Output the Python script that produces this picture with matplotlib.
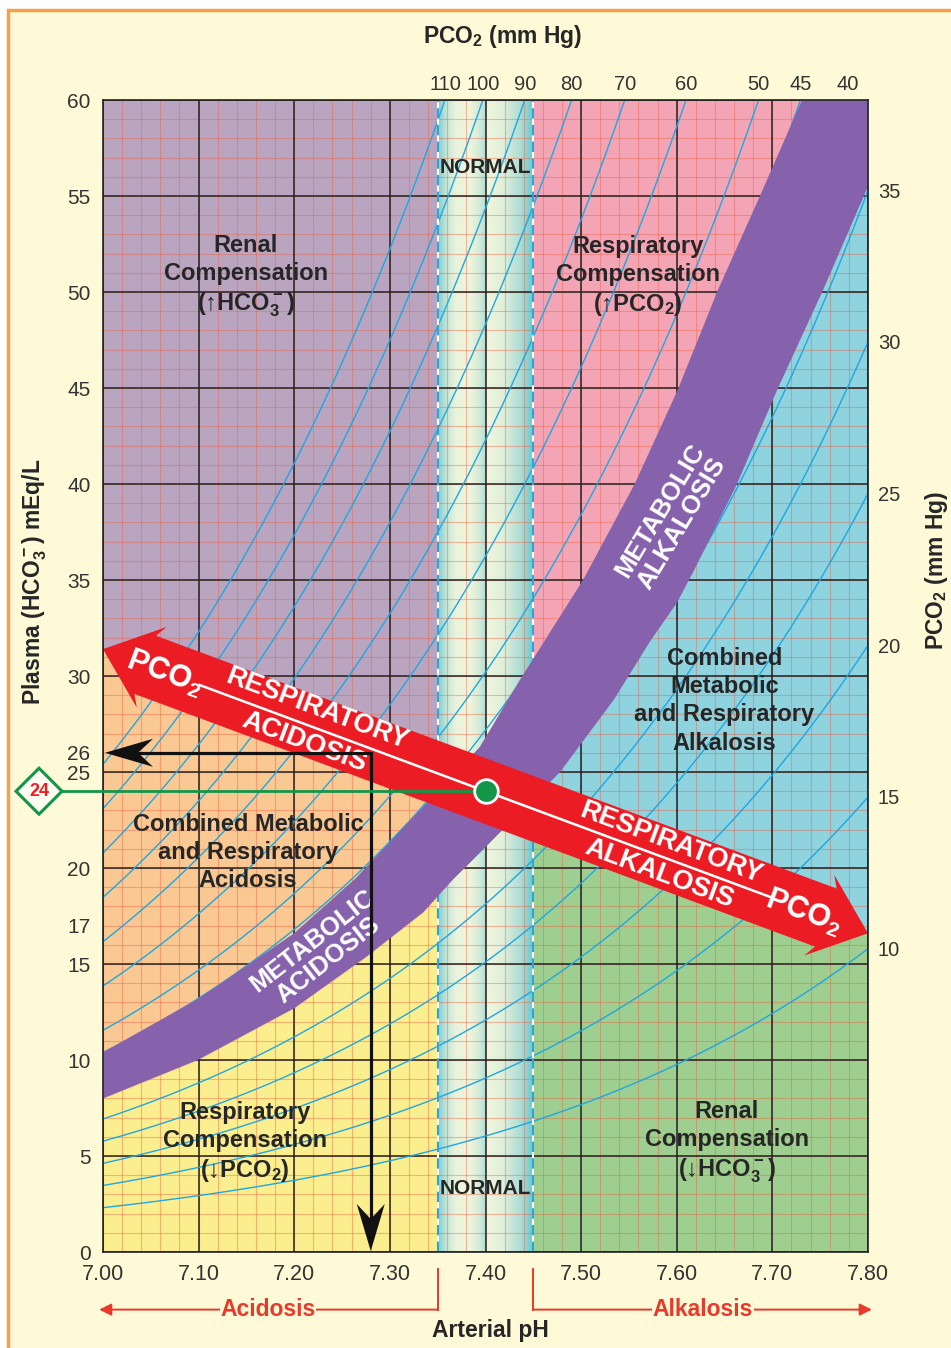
import numpy as np
import matplotlib
matplotlib.use("Agg")
import matplotlib.pyplot as plt
from matplotlib.patches import Polygon, Rectangle

plt.rcParams['font.family'] = ['Liberation Sans', 'DejaVu Sans']
plt.rcParams['mathtext.default'] = 'regular'

# ---------------- data ----------------
PH_TICKS = [7.00, 7.10, 7.20, 7.30, 7.40, 7.50, 7.60, 7.70, 7.80]
HCO3_TICKS = [0, 5, 10, 15, 17, 20, 25, 26, 30, 35, 40, 45, 50, 55, 60]
PCO2_TOP = [110, 100, 90, 80, 70, 60, 50, 45, 40]      # isopleths leaving through the top
PCO2_RIGHT = [35, 30, 25, 20, 15, 10]                   # isopleths leaving through the right
ISO_SCALE = 0.604      # HCO3 per mm Hg of PCO2 at pH 7.40
ISO_SLOPE = 1.044      # log-slope of the isopleths versus pH

NORMAL_PH = (7.35, 7.45)
NORMAL_POINT = (7.40, 24)
EXAMPLE_POINT = (7.28, 26)
RESP_LINE_PH = [7.00, 7.80]
RESP_LINE_HCO3 = [31.4, 16.6]

BAND_UPPER_PH = [7.000, 7.100, 7.200, 7.265, 7.335, 7.394, 7.436, 7.502,
                 7.556, 7.601, 7.643, 7.687, 7.731]
BAND_UPPER_HCO3 = [10.4, 13.2, 16.6, 19.5, 23.2, 26.3, 29.8, 35.0,
                   40.0, 44.9, 50.1, 55.0, 60.0]
BAND_LOWER_PH = [7.000, 7.099, 7.200, 7.276, 7.335, 7.366, 7.408, 7.478,
                 7.534, 7.572, 7.600, 7.617, 7.663, 7.705, 7.753, 7.800]
BAND_LOWER_HCO3 = [8.0, 10.0, 12.7, 15.4, 17.7, 19.4, 21.5, 25.0,
                   28.75, 31.8, 33.8, 35.4, 40.0, 44.9, 50.1, 55.5]

# ---------------- colours ----------------
CREAM = '#fef9d6'
BORDER = '#f7a146'
MAUVE = '#baa5c0'
ORANGE_FILL = '#f9c893'
YELLOW = '#fbee8e'
PINK = '#f4a5b5'
BLUE = '#8fd3df'
GREEN_FILL = '#9fcf90'
BAND = '#8662ac'
RED = '#ec1c24'
ISO = '#1ea7e1'
MINOR = '#ee5a3c'
GREEN = '#13964a'
TXT = '#262626'
TICK = '#333333'

W, H = 951, 1348
AX_L, AX_R, AX_T, AX_B = 103, 868, 100, 1252
fig = plt.figure(figsize=(W / 100, H / 100), dpi=100, facecolor='white')
fig.patches.append(Rectangle((8 / W, -0.05), 1.1, (1 - 10 / H) + 0.05,
                             transform=fig.transFigure, facecolor=CREAM,
                             edgecolor=BORDER, lw=2.5, zorder=-10))
ax = fig.add_axes([AX_L / W, 1 - AX_B / H, (AX_R - AX_L) / W, (AX_B - AX_T) / H])
ax.patch.set_visible(False)
SX = (AX_R - AX_L) / 0.8   # pixels per pH unit
SY = (AX_B - AX_T) / 60.0  # pixels per mEq/L


def hco3_at(ph, pco2):
    return ISO_SCALE * pco2 * 10 ** (ISO_SLOPE * (np.asarray(ph) - 7.4))


def resp_line(ph):
    return np.interp(ph, RESP_LINE_PH, RESP_LINE_HCO3)


# ---------------- zones ----------------
xl = np.linspace(7.0, NORMAL_PH[0], 300)
ax.fill_between([7.0, NORMAL_PH[0]], 0, 60, color=YELLOW, lw=0, zorder=0.1)
ax.fill_between(xl, np.interp(xl, BAND_LOWER_PH, BAND_LOWER_HCO3), resp_line(xl),
                where=resp_line(xl) > np.interp(xl, BAND_LOWER_PH, BAND_LOWER_HCO3),
                color=ORANGE_FILL, lw=0, zorder=0.11)
ax.fill_between(xl, resp_line(xl), 60, color=MAUVE, lw=0, zorder=0.12)

xr = np.linspace(NORMAL_PH[1], 7.8, 300)
ax.fill_between([NORMAL_PH[1], 7.8], 0, 60, color=GREEN_FILL, lw=0, zorder=0.1)
ax.fill_between(xr, resp_line(xr), 60, color=BLUE, lw=0, zorder=0.11)
xp = np.linspace(NORMAL_PH[1], BAND_UPPER_PH[-1], 300)
ax.fill_between(xp, np.interp(xp, BAND_UPPER_PH, BAND_UPPER_HCO3), 60,
                color=PINK, lw=0, zorder=0.12)

# shaded "normal" column
t = np.linspace(0, 1, 400)
shade = np.interp(t, [0, 0.08, 0.18, 0.33, 0.42, 0.5, 0.501, 0.52, 0.68, 0.85, 1.0],
                  [0.8, 0.35, 0.05, 0.0, 0.18, 0.45, 0.08, 0.0, 0.12, 0.45, 0.95])
teal = np.array([100, 196, 204]) / 255
light = np.array([240, 245, 220]) / 255
img = light[None, :] * (1 - shade[:, None]) + teal[None, :] * shade[:, None]
ax.imshow(img[None, :, :], extent=[NORMAL_PH[0], NORMAL_PH[1], 0, 60],
          aspect='auto', interpolation='bilinear', zorder=0.2)

# ---------------- grid ----------------
ax.vlines(np.arange(7.0, 7.8001, 0.02), 0, 60, color=MINOR, lw=0.8, alpha=0.4, zorder=0.4)
ax.hlines(np.arange(0, 61, 1), 7.0, 7.8, color=MINOR, lw=0.8, alpha=0.4, zorder=0.4)
ax.vlines(PH_TICKS, 0, 60, color='#222222', lw=1.1, zorder=0.45)
ax.hlines(np.arange(0, 61, 5), 7.0, 7.8, color='#222222', lw=1.1, zorder=0.45)

# ---------------- PCO2 isopleths ----------------
ph = np.linspace(7.0, 7.8, 400)
for p in PCO2_TOP + PCO2_RIGHT:
    ax.plot(ph, hco3_at(ph, p), color=ISO, lw=1.0, zorder=0.6)

for v in NORMAL_PH:
    ax.axvline(v, color='white', lw=1.5, zorder=0.7)
    ax.axvline(v, color='#29a6dc', lw=1.5, ls=(0, (5, 3)), zorder=0.71)

# ---------------- metabolic band ----------------
band = (list(zip(BAND_UPPER_PH, BAND_UPPER_HCO3)) + [(7.8, 60)] +
        list(zip(BAND_LOWER_PH[::-1], BAND_LOWER_HCO3[::-1])))
ax.add_patch(Polygon(band, closed=True, facecolor=BAND, edgecolor='none', zorder=1))

ax.text(7.594, 38.3, 'METABOLIC\nALKALOSIS', rotation=59, rotation_mode='anchor',
        ha='center', va='center', multialignment='center', color='white',
        fontsize=18.5, fontweight='bold', linespacing=1.05, zorder=1.1)
ax.text(7.227, 15.7, 'METABOLIC\nACIDOSIS', rotation=38, rotation_mode='anchor',
        ha='center', va='center', multialignment='center', color='white',
        fontsize=18.5, fontweight='bold', linespacing=1.05, zorder=1.1)

# ---------------- respiratory double arrow ----------------
X0, Y0 = RESP_LINE_PH[0], RESP_LINE_HCO3[0]
dX = (RESP_LINE_PH[1] - RESP_LINE_PH[0]) * SX
dY = (RESP_LINE_HCO3[1] - RESP_LINE_HCO3[0]) * SY
L = np.hypot(dX, dY)
ux, uy = dX / L, dY / L
nx, ny = uy, -ux          # points to the lower side of the arrow
ANG = np.degrees(np.arctan2(dY, dX))


def on_arrow(a, p):
    return (X0 + (a * ux + p * nx) / SX, Y0 + (a * uy + p * ny) / SY)


HEAD_LEN, HEAD_HALF, BARB_BACK, SHAFT_HALF = 52, 43, 45, 31
outline = [(0, 0), (HEAD_LEN, -HEAD_HALF), (BARB_BACK, -SHAFT_HALF),
           (L - BARB_BACK, -SHAFT_HALF), (L - HEAD_LEN, -HEAD_HALF), (L, 0),
           (L - HEAD_LEN, HEAD_HALF), (L - BARB_BACK, SHAFT_HALF),
           (BARB_BACK, SHAFT_HALF), (HEAD_LEN, HEAD_HALF)]
ax.add_patch(Polygon([on_arrow(a, p) for a, p in outline], closed=True,
                     facecolor=RED, edgecolor='none', zorder=2, clip_on=False))
wl = [on_arrow(103, 0), on_arrow(L - 105, 0)]
ax.plot([wl[0][0], wl[1][0]], [wl[0][1], wl[1][1]], color='white', lw=1.8, zorder=2.05)

arrow_labels = [("PCO$_2$", 66, 1, 22), ("RESPIRATORY", 221, -18, 19.5),
                ("ACIDOSIS", 221, 17, 19.5), ("RESPIRATORY", 600, -16, 19.5),
                ("ALKALOSIS", 600, 17, 19.5), ("PCO$_2$", L - 68, 3, 22)]
for s, a, p, fs in arrow_labels:
    x, y = on_arrow(a, p)
    ax.text(x, y, s, rotation=ANG, rotation_mode='anchor', ha='center', va='center',
            color='white', fontsize=fs, fontweight='bold', zorder=2.1)

# ---------------- example reading (black) ----------------
ex_ph, ex_h = EXAMPLE_POINT
NOTCH, BLEN, BHALF = 33, 48, 14
ax.plot([7.0 + NOTCH / SX, ex_ph, ex_ph], [ex_h, ex_h, NOTCH / SY],
        color='#111111', lw=2.3, solid_joinstyle='miter', zorder=3)
tip_l = (7.0 + 2 / SX, ex_h)
ax.add_patch(Polygon([tip_l, (tip_l[0] + BLEN / SX, ex_h + BHALF / SY),
                      (tip_l[0] + NOTCH / SX, ex_h), (tip_l[0] + BLEN / SX, ex_h - BHALF / SY)],
                     closed=True, facecolor='#111111', edgecolor='none', zorder=3))
tip_d = (ex_ph, 0.05)
ax.add_patch(Polygon([tip_d, (ex_ph - BHALF / SX, BLEN / SY), (ex_ph, NOTCH / SY),
                      (ex_ph + BHALF / SX, BLEN / SY)],
                     closed=True, facecolor='#111111', edgecolor='none', zorder=3))

# ---------------- normal reading (green) ----------------
n_ph, n_h = NORMAL_POINT
d_ph = 7.0 - (AX_L - 39) / SX
DH = 23
ax.plot([d_ph + DH / SX, n_ph], [n_h, n_h], color=GREEN, lw=2.0, zorder=3, clip_on=False)
ax.add_patch(Polygon([(d_ph - DH / SX, n_h), (d_ph, n_h + DH / SY),
                      (d_ph + DH / SX, n_h), (d_ph, n_h - DH / SY)], closed=True,
                     facecolor='#fffdf2', edgecolor=GREEN, lw=2.2, zorder=3.3, clip_on=False))
ax.text(d_ph, n_h, str(n_h), color=RED, fontsize=13, fontweight='bold',
        ha='center', va='center', zorder=3.4, clip_on=False)
ax.plot(n_ph, n_h, 'o', ms=17, mfc=GREEN, mec='white', mew=2, zorder=3.2)

# ---------------- zone captions ----------------
captions = [
    (7.1495, 50.8, "Renal\nCompensation\n(↑HCO$_3^-$)"),
    (7.5595, 50.8, "Respiratory\nCompensation\n(↑PCO$_2$)"),
    (7.400, 56.5, "NORMAL"),
    (7.400, 3.3, "NORMAL"),
    (7.650, 28.7, "Combined\nMetabolic\nand Respiratory\nAlkalosis"),
    (7.1516, 20.8, "Combined Metabolic\nand Respiratory\nAcidosis"),
    (7.1485, 5.7, "Respiratory\nCompensation\n(↓PCO$_2$)"),
    (7.6525, 5.7, "Renal\nCompensation\n(↓HCO$_3^-$)"),
]
for x, y, s in captions:
    fs = 15 if s == "NORMAL" else 17
    ax.text(x, y, s, ha='center', va='center', multialignment='center', color=TXT,
            fontsize=fs, fontweight='bold', linespacing=1.28, zorder=1.5)

# ---------------- axes & ticks ----------------
ax.set_xlim(7.0, 7.8)
ax.set_ylim(0, 60)
ax.set_xticks(PH_TICKS, labels=[f"{v:.2f}" for v in PH_TICKS])
ax.set_yticks(HCO3_TICKS, labels=[str(v) for v in HCO3_TICKS])
ax.tick_params(axis='x', length=0, pad=9, labelsize=15.5, labelcolor=TICK)
ax.tick_params(axis='y', length=0, pad=9, labelsize=15, labelcolor=TICK)
for sp in ax.spines.values():
    sp.set_color('#222222')
    sp.set_linewidth(1.2)

top = ax.secondary_xaxis('top')
top.set_xticks([7.4 + np.log10(60 / (ISO_SCALE * p)) / ISO_SLOPE for p in PCO2_TOP],
               labels=[str(p) for p in PCO2_TOP])
top.tick_params(length=0, pad=4, labelsize=14.5, labelcolor=TICK)
top.spines['top'].set_visible(False)

right = ax.secondary_yaxis('right')
right.set_yticks([float(hco3_at(7.8, p)) for p in PCO2_RIGHT],
                 labels=[str(p) for p in PCO2_RIGHT])
right.tick_params(length=0, pad=7, labelsize=14.5, labelcolor=TICK)
right.spines['right'].set_visible(False)

# ---------------- titles ----------------
fig.text(503 / W, 1 - 37 / H, "PCO$_2$ (mm Hg)", ha='center', va='center',
         fontsize=16.5, fontweight='bold', color=TXT)
fig.text(937 / W, 1 - 570 / H, "PCO$_2$ (mm Hg)", ha='center', va='center', rotation=90,
         fontsize=16.5, fontweight='bold', color=TXT)
fig.text(35 / W, 1 - 582 / H, "Plasma (HCO$_3^-$) mEq/L", ha='center', va='center',
         rotation=90, fontsize=16.5, fontweight='bold', color=TXT)
fig.text(490 / W, 1 - 1331 / H, "Arterial pH", ha='center', va='center',
         fontsize=16.5, fontweight='bold', color=TXT)

# ---------------- acidosis / alkalosis markers under the axis ----------------
y_top, y_line = -0.9, -3.0
BRED = '#e8392b'
for edge, end, label, cx in [(NORMAL_PH[0], 6.996, 'Acidosis', 7.1726),
                             (NORMAL_PH[1], 7.804, 'Alkalosis', 7.6275)]:
    ax.plot([edge, edge], [y_top, y_line], color=BRED, lw=1.4, clip_on=False, zorder=3)
    ax.annotate('', xy=(end, y_line), xytext=(edge, y_line), annotation_clip=False,
                arrowprops=dict(arrowstyle='-|>', color=BRED, lw=1.4, mutation_scale=18,
                                shrinkA=0, shrinkB=0))
    ax.text(cx, y_line, label, color=BRED, fontsize=16.5, fontweight='bold', ha='center',
            va='center', clip_on=False, zorder=4,
            bbox=dict(facecolor=CREAM, edgecolor='none', pad=0.5))

fig.savefig('out.png', dpi=100)
